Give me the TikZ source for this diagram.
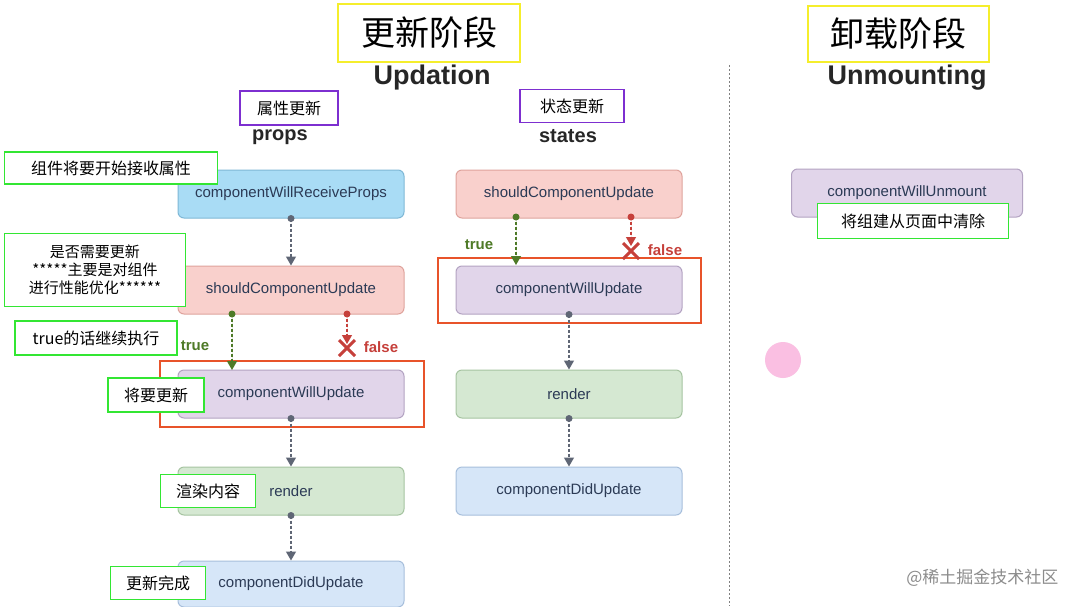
\documentclass[tikz,border=0pt]{standalone}
\usepackage{fontspec}
\setmainfont{Liberation Sans}
\newfontfamily\cjk{Noto Sans CJK SC}
\usetikzlibrary{arrows.meta}
\definecolor{bB}{HTML}{A9DCF5}\definecolor{dB}{HTML}{7FB8D6}
\definecolor{bR}{HTML}{F9D0CC}\definecolor{dR}{HTML}{DFA39C}
\definecolor{bP}{HTML}{E1D5EA}\definecolor{dP}{HTML}{B3A3C2}
\definecolor{bG}{HTML}{D5E8D2}\definecolor{dG}{HTML}{A6C4A1}
\definecolor{bL}{HTML}{D6E6F8}\definecolor{dL}{HTML}{A7BFDC}
\definecolor{tx}{HTML}{2B3A55}\definecolor{gc}{HTML}{4E7A27}\definecolor{rc}{HTML}{C6403B}
\definecolor{ar}{HTML}{5F6675}\definecolor{orng}{HTML}{E8532A}
\definecolor{grn}{HTML}{33E633}\definecolor{pur}{HTML}{7D2FD0}\definecolor{yel}{HTML}{F5EE2C}
\tikzset{
 cbox/.style={draw=#1,line width=1pt,rounded corners=6pt,minimum width=226pt,minimum height=48pt,font=\fontsize{15}{17}\selectfont,text=tx},
 note/.style={draw=grn,line width=1.6pt,fill=white,font=\cjk\fontsize{16}{18}\selectfont,align=center,inner sep=0pt},
 tag/.style={draw=pur,line width=1.4pt,fill=white,font=\cjk\fontsize{16}{18}\selectfont,inner sep=0pt},
 big/.style={draw=yel,line width=2pt,fill=white,font=\cjk\fontsize{34}{36}\selectfont,inner sep=0pt},
 conn/.style={dashed,dash pattern=on 3pt off 2pt,line width=1.2pt,draw=ar,-{Triangle[length=9pt,width=10pt]}},
 dot/.style={circle,fill=#1,inner sep=0pt,minimum size=7pt},
 ttl/.style={font=\fontsize{27}{29}\selectfont\bfseries,text=black!85},
 sub/.style={font=\fontsize{20}{22}\selectfont\bfseries,text=black!85},
 ob/.style={draw=orng,line width=1.6pt},
 xm/.style={draw=rc,line width=3pt}
}
\begin{document}
\begin{tikzpicture}[x=1pt,y=-1pt]
\useasboundingbox[fill=white] (0,0) rectangle (1080,606);
\draw[dashed,dash pattern=on 2pt off 2pt,black!50] (729,65) coordinate(v1) -- (729,606) coordinate(v2);
% titles
\node[big,minimum width=182pt,minimum height=58pt] (t1) at (429,33) {更新阶段};
\node[big,minimum width=181pt,minimum height=56pt] (t2) at (898,34) {卸载阶段};
\node[ttl] (u1) at (432,78) {Updation};
\node[ttl] (u2) at (907,78) {Unmounting};
\node[sub] (p) at (280,137) {props};
\node[sub] (s) at (568,136) {states};
\node[tag,minimum width=98pt,minimum height=34pt] (tp) at (289,108) {属性更新};
\node[tag,minimum width=104pt,minimum height=33pt] (ts) at (572,106) {状态更新};
% orange frames
\draw[ob] (160,361) rectangle (424,427);
\draw[ob] (438,258) rectangle (701,323);
% left column
\node[cbox=dB,fill=bB] (a1) at (291,194) {componentWillReceiveProps};
\node[cbox=dR,fill=bR] (a2) at (291,290) {shouldComponentUpdate};
\node[cbox=dP,fill=bP] (a3) at (291,394) {componentWillUpdate};
\node[cbox=dG,fill=bG] (a4) at (291,491) {render};
\node[cbox=dL,fill=bL,minimum height=46pt] (a5) at (291,584) {componentDidUpdate};
% right column
\node[cbox=dR,fill=bR] (b1) at (569,194) {shouldComponentUpdate};
\node[cbox=dP,fill=bP] (b2) at (569,290) {componentWillUpdate};
\node[cbox=dG,fill=bG] (b3) at (569,394) {render};
\node[cbox=dL,fill=bL] (b4) at (569,491) {componentDidUpdate};
\node[cbox=dP,fill=bP,minimum width=231pt] (c1) at (907,193) {componentWillUnmount};
% connectors left
\draw[conn] (a1.south) -- (a2.north); \node[dot=ar] (d1) at (a1.south) {};
\draw[conn] (a3.south) -- (a4.north); \node[dot=ar] (d2) at (a3.south) {};
\draw[conn] (a4.south) -- (a5.north); \node[dot=ar] (d3) at (a4.south) {};
\coordinate (at) at (232,314); \coordinate (atb) at (232,370);
\draw[conn,draw=gc,fill=gc] (at) -- (atb); \node[dot=gc] (d4) at (at) {};
\coordinate (af) at (347,314); \coordinate (afb) at (347,344);
\draw[conn,draw=rc,fill=rc] (af) -- (afb); \node[dot=rc] (d5) at (af) {};
\coordinate (x1) at (347,348);
\draw[xm] ([shift={(-8,-8)}]x1) -- ([shift={(8,8)}]x1) ([shift={(-8,8)}]x1) -- ([shift={(8,-8)}]x1);
\node[text=gc,font=\fontsize{15}{17}\selectfont\bfseries] (lt1) at (195,346) {true};
\node[text=rc,font=\fontsize{15}{17}\selectfont\bfseries] (lf1) at (381,347) {false};
% connectors right
\draw[conn] (b2.south) -- (b3.north); \node[dot=ar] (e1) at (b2.south) {};
\draw[conn] (b3.south) -- (b4.north); \node[dot=ar] (e2) at (b3.south) {};
\coordinate (bt) at (516,217); \coordinate (btb) at (516,265);
\draw[conn,draw=gc,fill=gc] (bt) -- (btb); \node[dot=gc] (e3) at (bt) {};
\coordinate (bf) at (631,217); \coordinate (bfb) at (631,246);
\draw[conn,draw=rc,fill=rc] (bf) -- (bfb); \node[dot=rc] (e4) at (bf) {};
\coordinate (x2) at (631,251);
\draw[xm] ([shift={(-8,-8)}]x2) -- ([shift={(8,8)}]x2) ([shift={(-8,8)}]x2) -- ([shift={(8,-8)}]x2);
\node[text=gc,font=\fontsize{15}{17}\selectfont\bfseries] (lt2) at (479,245) {true};
\node[text=rc,font=\fontsize{15}{17}\selectfont\bfseries] (lf2) at (665,250) {false};
% notes
\node[note,minimum width=213pt,minimum height=32pt] (n1) at (111,168) {组件将要开始接收属性};
\node[note,minimum width=181pt,minimum height=73pt,font=\cjk\fontsize{15}{18}\selectfont] (n2) at (95,270) {是否需要更新\\*****主要是对组件\\进行性能优化******};
\node[note,minimum width=162pt,minimum height=34pt] (n3) at (96,338) {true的话继续执行};
\node[note,minimum width=96pt,minimum height=34pt] (n4) at (156,395) {将要更新};
\node[note,minimum width=95pt,minimum height=33pt] (n5) at (208,491) {渲染内容};
\node[note,minimum width=95pt,minimum height=33pt] (n6) at (158,583) {更新完成};
\node[note,minimum width=191pt,minimum height=35pt] (n7) at (913,221) {将组建从页面中清除};
% cursor highlight
\node[circle,fill=magenta!25,minimum size=36pt,inner sep=0pt] (cur) at (783,360) {};
\node[text=black!45,font=\cjk\fontsize{17}{19}\selectfont,anchor=east] (wm) at (1062,578) {@稀土掘金技术社区};
\end{tikzpicture}
\end{document}
